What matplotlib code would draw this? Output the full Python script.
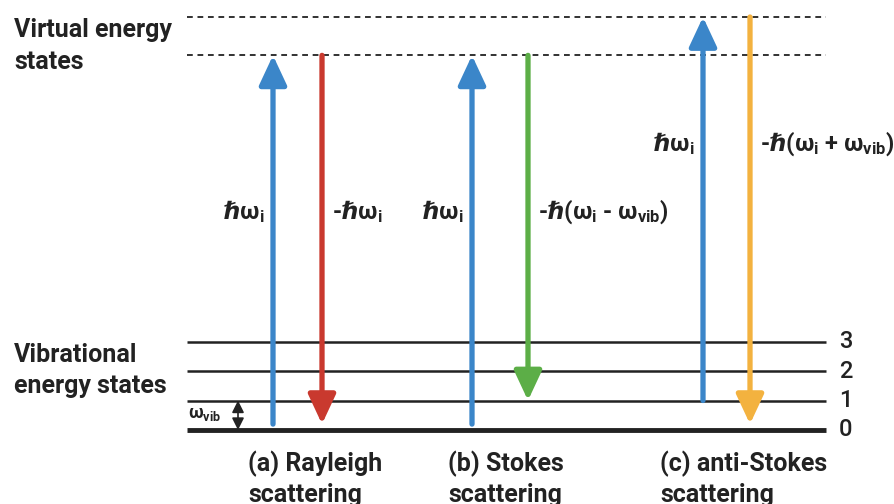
import matplotlib.pyplot as plt

plt.rcParams['font.family'] = ['Roboto', 'DejaVu Sans']
plt.rcParams['mathtext.fontset'] = 'custom'
plt.rcParams['mathtext.rm'] = 'Roboto:bold'
plt.rcParams['mathtext.it'] = 'Roboto:bold'
plt.rcParams['mathtext.bf'] = 'Roboto:bold'
plt.rcParams['mathtext.sf'] = 'DejaVu Sans:bold'

HBAR = '$\\mathsf{\u210f}$'
W_I = r'$\omega_\mathrm{i}$'
W_VIB = r'$\omega_\mathrm{vib}$'

# energy levels, in units of one vibrational quantum
vib_levels = [0, 1, 2, 3]
vib_labels = ['0', '1', '2', '3']
virtual_levels = [12.7, 14.0]

# transitions: column x, start level, end level, colour, label
cases = ['(a) Rayleigh\nscattering', '(b) Stokes\nscattering', '(c) anti-Stokes\nscattering']
case_x = [248, 448, 660]
arrow_x = [273, 322, 472, 528, 703, 750]
arrow_from = [0.2, 12.7, 0.2, 12.7, 1, 14.0]
arrow_to = [12.7, 0.2, 12.7, 1, 14.0, 0.2]
arrow_colors = ['#3b86c9', '#c9392e', '#3b86c9', '#5cae47', '#3b86c9', '#f3b23f']
arrow_labels = [HBAR + W_I, '-' + HBAR + W_I,
                HBAR + W_I, '-' + HBAR + '(' + W_I + ' - ' + W_VIB + ')',
                HBAR + W_I, '-' + HBAR + '(' + W_I + ' + ' + W_VIB + ')']
label_side = ['left', 'right', 'left', 'right', 'left', 'right']
label_level = [7.4, 7.4, 7.4, 7.4, 9.7, 9.7]

fig = plt.figure(figsize=(8.94, 5.04), dpi=100)
ax = fig.add_axes([0, 0, 1, 1])
ax.set_xlim(0, 894)
ax.set_ylim(-74 / 29.5, 430 / 29.5)
ax.axis('off')

x0, x1 = 187, 826
for lev, lab in zip(vib_levels, vib_labels):
    ax.plot([x0, x1], [lev, lev], color='#222222', lw=3.5 if lev == 0 else 1.8,
            solid_capstyle='butt')
    ax.text(846, lev, lab, ha='center', va='center', fontsize=17,
            color='#222222', fontweight='medium')
for lev in virtual_levels:
    ax.plot([x0, x1], [lev, lev], color='#222222', lw=1.3, ls=(0, (3.2, 2.6)))

for x, a, b, c, lab, side, ly in zip(arrow_x, arrow_from, arrow_to, arrow_colors,
                                      arrow_labels, label_side, label_level):
    ax.annotate('', xy=(x, b), xytext=(x, a),
                arrowprops=dict(arrowstyle='-|>,head_width=0.42,head_length=0.9',
                                mutation_scale=20, lw=3.8, color=c,
                                shrinkA=0, shrinkB=0))
    if side == 'left':
        ax.text(x - 8, ly, lab, ha='right', va='center', fontsize=17,
                color='#222222', fontweight='bold')
    else:
        ax.text(x + 10, ly, lab, ha='left', va='center', fontsize=17,
                color='#222222', fontweight='bold')

# vibrational spacing marker
ax.annotate('', xy=(238, 1), xytext=(238, 0),
            arrowprops=dict(arrowstyle='<|-|>,head_width=0.3,head_length=0.6',
                            mutation_scale=12, lw=1.2, color='#222222',
                            shrinkA=0, shrinkB=0))
ax.text(188, 0.55, W_VIB, ha='left', va='center', fontsize=13, color='#222222')

for x, name in zip(case_x, cases):
    ax.text(x, -1.65, name, ha='left', va='center', fontsize=18, color='#222222',
            fontweight='bold', linespacing=1.35)

ax.text(14, 13.02, 'Virtual energy\nstates', ha='left', va='center', fontsize=18,
        color='#222222', fontweight='bold', linespacing=1.38)
ax.text(14, 2.02, 'Vibrational\nenergy states', ha='left', va='center', fontsize=18,
        color='#222222', fontweight='bold', linespacing=1.38)

fig.savefig('out.png', dpi=100)
